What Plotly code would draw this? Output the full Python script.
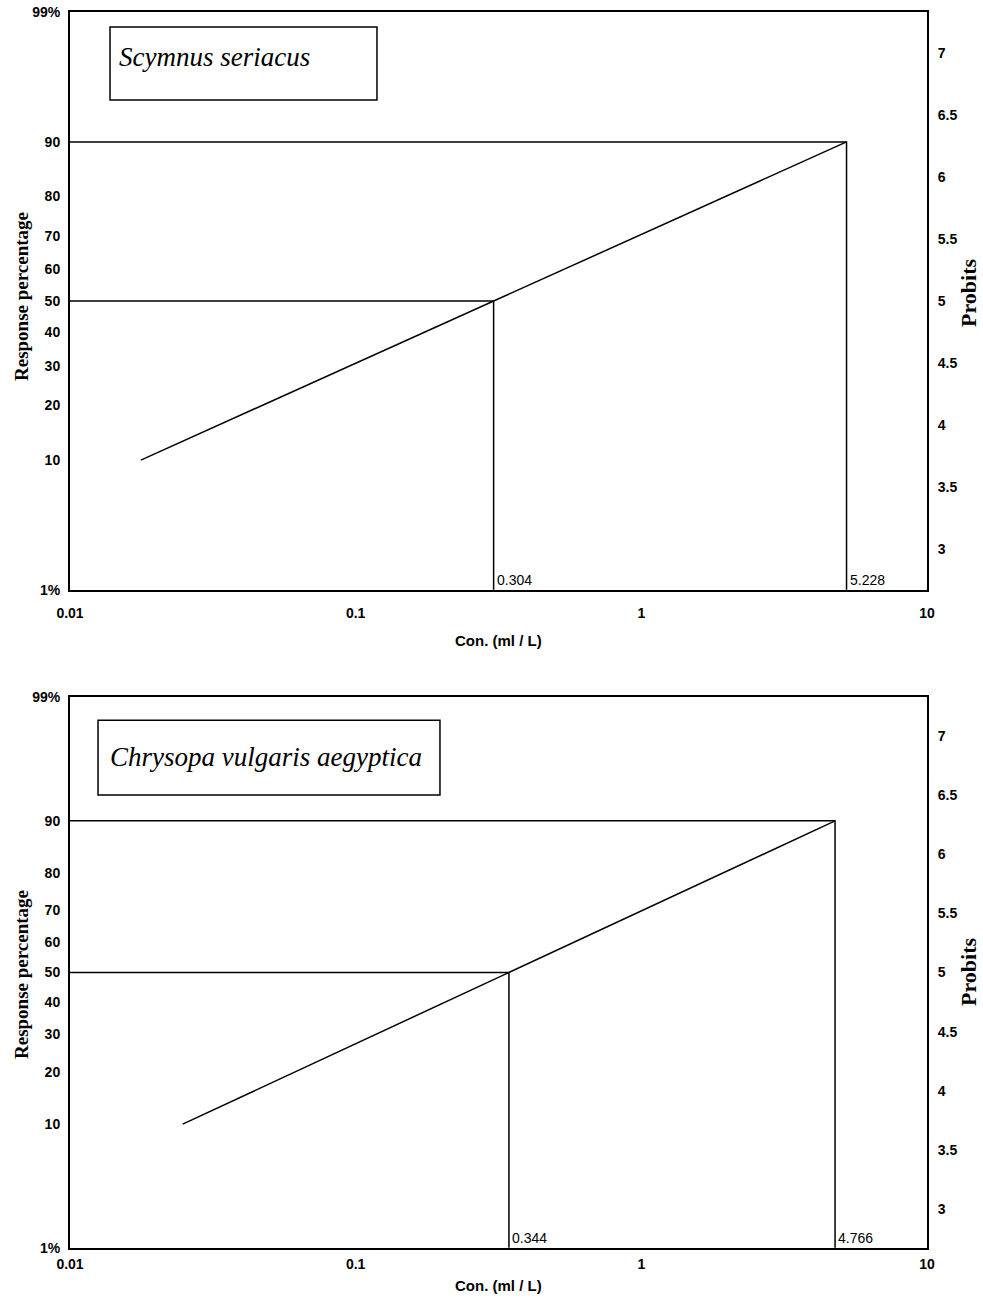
import math
from statistics import NormalDist
import plotly.graph_objects as go

# ---------------- data ----------------
species = ["Scymnus seriacus", "Chrysopa vulgaris aegyptica"]
line_conc = [[0.0177, 0.304, 5.228], [0.0248, 0.344, 4.766]]   # ml/L
line_resp = [[10, 50, 90], [10, 50, 90]]                         # response %
lc50 = [0.304, 0.344]
lc90 = [5.228, 4.766]
lc_labels = [["0.304", "5.228"], ["0.344", "4.766"]]

pct_ticks = [1, 10, 20, 30, 40, 50, 60, 70, 80, 90, 99]
pct_text = ["1%", "10", "20", "30", "40", "50", "60", "70", "80", "90", "99%"]
probit_ticks = [3, 3.5, 4, 4.5, 5, 5.5, 6, 6.5, 7]
probit_text = ["3", "3.5", "4", "4.5", "5", "5.5", "6", "6.5", "7"]
x_ticks = [0.01, 0.1, 1, 10]
x_text = ["0.01", "0.1", "1", "10"]


def probit(p):
    return 5 + NormalDist().inv_cdf(p / 100.0)


ylo, yhi = probit(1) - 0.002, probit(99) + 0.002
bottom_val = probit(1)

# body margin is removed by a small script, so page pixels == figure pixels
W, H = 983, 1303
PL, PR, PT, PB = 70, 927, 10, 1250     # plot area in pixels
ML, MR, MT, MB = PL, W - PR, PT, H - PB
PW, PH = PR - PL, PB - PT


def px(xp):
    return (xp - PL) / PW


def py(yp):
    return (PB - yp) / PH


panel_top = [12, 697]
panel_bot = [590, 1248]
domains = [[py(panel_bot[i]), py(panel_top[i])] for i in range(2)]
box_x = [[0.0467, 0.3582], [0.0327, 0.4317]]
box_y = [[0.8478, 0.974], [0.822, 0.958]]
txt_pos = [[0.0548, 0.922], [0.0443, 0.891]]
xtitle_y = [640, 1285]
ytitle_center = [297, 975]
ptitle_center = [293, 972]
xtick_standoff = [9, 2]

sans = "Liberation Sans, Arial, sans-serif"
serif = "Liberation Serif, Times New Roman, serif"

fig = go.Figure()

for i in range(2):
    xa = "x" if i == 0 else "x2"
    ya = "y" if i == 0 else "y3"
    yb = "y2" if i == 0 else "y4"
    xkey = "xaxis" if i == 0 else "xaxis2"
    ykey = "yaxis" if i == 0 else "yaxis3"
    y2key = "yaxis2" if i == 0 else "yaxis4"

    line = dict(color="black", width=1.5)
    # regression line
    fig.add_trace(go.Scatter(x=line_conc[i], y=[probit(v) for v in line_resp[i]],
                             mode="lines", line=line,
                             xaxis=xa, yaxis=ya, showlegend=False, hoverinfo="skip"))
    # 50% guide
    fig.add_trace(go.Scatter(x=[0.01, lc50[i], lc50[i]],
                             y=[probit(50), probit(50), bottom_val],
                             mode="lines", line=line,
                             xaxis=xa, yaxis=ya, showlegend=False, hoverinfo="skip"))
    # 90% guide
    fig.add_trace(go.Scatter(x=[0.01, lc90[i], lc90[i]],
                             y=[probit(90), probit(90), bottom_val],
                             mode="lines", line=line,
                             xaxis=xa, yaxis=ya, showlegend=False, hoverinfo="skip"))
    # invisible trace for the right (probit) axis
    fig.add_trace(go.Scatter(x=[0.01], y=[5], mode="markers", marker=dict(opacity=0),
                             xaxis=xa, yaxis=yb, showlegend=False, hoverinfo="skip"))

    fig.layout[xkey] = dict(
        type="log", range=[-2, 1], domain=[0, 1], automargin=False,
        anchor=ya, tickvals=x_ticks, ticktext=x_text,
        showline=True, linecolor="black", linewidth=2, mirror=True,
        showgrid=False, zeroline=False, ticks="", ticklabelstandoff=xtick_standoff[i],
        ticklabeloverflow="allow",
        tickfont=dict(family=sans, size=14, color="black", weight="bold"),
    )
    fig.layout[ykey] = dict(
        range=[ylo, yhi], domain=domains[i], anchor=xa, automargin=False,
        tickvals=[probit(v) for v in pct_ticks], ticktext=pct_text,
        showline=True, linecolor="black", linewidth=2, mirror=True,
        showgrid=False, zeroline=False, ticks="", ticklabelstandoff=5,
        ticklabeloverflow="allow",
        tickfont=dict(family=sans, size=14, color="black", weight="bold"),
    )
    fig.layout[y2key] = dict(
        range=[ylo, yhi], overlaying=ya, side="right", anchor=xa, automargin=False,
        tickvals=probit_ticks, ticktext=probit_text,
        showline=True, linecolor="black", linewidth=2,
        showgrid=False, zeroline=False, ticks="", ticklabelstandoff=6,
        ticklabeloverflow="allow",
        tickfont=dict(family=sans, size=14, color="black", weight="bold"),
    )

    # axis titles
    fig.add_annotation(x=0.5, y=py(xtitle_y[i]), xref="paper", yref="paper",
                       text="Con. (ml / L)", showarrow=False, xanchor="center",
                       yanchor="middle",
                       font=dict(family=sans, size=15, color="black", weight="bold"))
    fig.add_annotation(x=px(21), y=py(ytitle_center[i]), xref="paper", yref="paper",
                       text="Response percentage", showarrow=False, textangle=-90,
                       xanchor="center", yanchor="middle",
                       font=dict(family=serif, size=19, color="black", weight="bold"))
    fig.add_annotation(x=px(968), y=py(ptitle_center[i]), xref="paper", yref="paper",
                       text="Probits", showarrow=False, textangle=-90,
                       xanchor="center", yanchor="middle",
                       font=dict(family=serif, size=22, color="black", weight="bold"))

    # LC labels at the bottom
    for val, lab in zip([lc50[i], lc90[i]], lc_labels[i]):
        fig.add_annotation(x=math.log10(val), y=bottom_val, xref=xa, yref=ya,
                           text=lab, showarrow=False, xanchor="left", yanchor="bottom",
                           xshift=1, yshift=0,
                           font=dict(family=sans, size=14, color="black"))

    # species box
    fig.add_shape(type="rect", xref=f"{xa} domain", yref=f"{ya} domain",
                  x0=box_x[i][0], x1=box_x[i][1], y0=box_y[i][0], y1=box_y[i][1],
                  line=dict(color="black", width=1.5), fillcolor="white", layer="above")
    fig.add_annotation(x=txt_pos[i][0], y=txt_pos[i][1], xref=f"{xa} domain",
                       yref=f"{ya} domain", text=species[i], showarrow=False,
                       xanchor="left", yanchor="middle",
                       font=dict(family=serif, size=27, color="black", style="italic"))

fig.update_layout(
    width=W, height=H,
    margin=dict(l=ML, r=MR, t=MT, b=MB),
    plot_bgcolor="white", paper_bgcolor="white",
    showlegend=False,
)

fig.write_html("out.html", config={"displayModeBar": False},
               post_script="document.body.style.margin='0';document.body.style.overflow='hidden';")
